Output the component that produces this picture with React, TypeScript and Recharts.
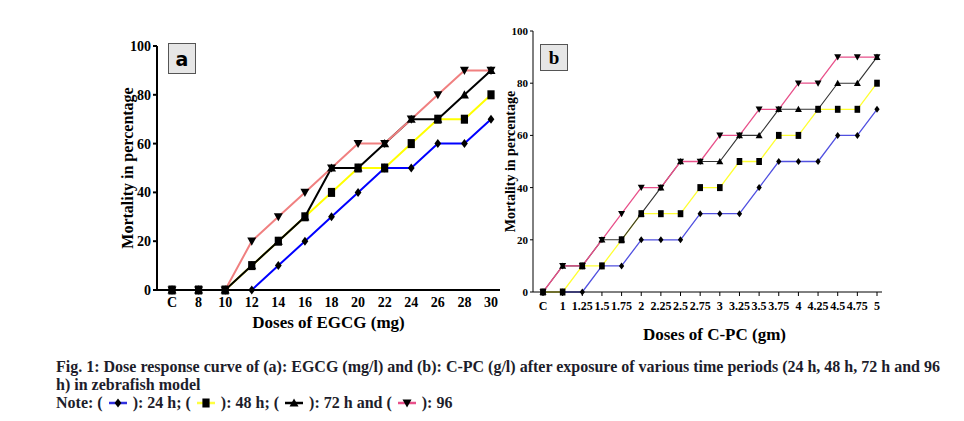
import { LineChart, Line, XAxis, YAxis } from "recharts";

const dosesA = ["C", "8", "10", "12", "14", "16", "18", "20", "22", "24", "26", "28", "30"];
const a24h = [0, 0, 0, 0, 10, 20, 30, 40, 50, 50, 60, 60, 70];
const a48h = [0, 0, 0, 10, 20, 30, 40, 50, 50, 60, 70, 70, 80];
const a72h = [0, 0, 0, 10, 20, 30, 50, 50, 60, 70, 70, 80, 90];
const a96h = [0, 0, 0, 20, 30, 40, 50, 60, 60, 70, 80, 90, 90];

const dosesB = ["C", "1", "1.25", "1.5", "1.75", "2", "2.25", "2.5", "2.75", "3", "3.25", "3.5", "3.75", "4", "4.25", "4.5", "4.75", "5"];
const b24h = [0, 0, 0, 10, 10, 20, 20, 20, 30, 30, 30, 40, 50, 50, 50, 60, 60, 70];
const b48h = [0, 0, 10, 10, 20, 30, 30, 30, 40, 40, 50, 50, 60, 60, 70, 70, 70, 80];
const b72h = [0, 10, 10, 20, 20, 30, 40, 50, 50, 50, 60, 60, 70, 70, 70, 80, 80, 90];
const b96h = [0, 10, 10, 20, 30, 40, 40, 50, 50, 60, 60, 70, 70, 80, 80, 90, 90, 90];

const yTicks = [0, 20, 40, 60, 80, 100];

const dataA = dosesA.map((dose, i) => ({ dose, h24: a24h[i], h48: a48h[i], h72: a72h[i], h96: a96h[i] }));
const dataB = dosesB.map((dose, i) => ({ dose, h24: b24h[i], h48: b48h[i], h72: b72h[i], h96: b96h[i] }));

const serif = "'Liberation Serif', 'Times New Roman', serif";

type Shape = "diamond" | "square" | "up" | "down";

const Mark = ({ cx, cy, shape, s }: { cx?: number; cy?: number; shape: Shape; s: number }) => {
  if (cx == null || cy == null) return null;
  if (shape === "diamond")
    return <path d={`M${cx},${cy - s} L${cx + s * 0.75},${cy} L${cx},${cy + s} L${cx - s * 0.75},${cy} Z`} fill="#000" />;
  if (shape === "square")
    return <rect x={cx - s * 0.8} y={cy - s} width={s * 1.6} height={s * 2} fill="#000" />;
  if (shape === "up")
    return <path d={`M${cx},${cy - s} L${cx + s},${cy + s * 0.8} L${cx - s},${cy + s * 0.8} Z`} fill="#000" />;
  return <path d={`M${cx - s},${cy - s * 0.8} L${cx + s},${cy - s * 0.8} L${cx},${cy + s} Z`} fill="#000" />;
};

const dotOf = (shape: Shape, s: number) => (p: any) =>
  <Mark key={`${shape}-${p.index}`} cx={p.cx} cy={p.cy} shape={shape} s={s} />;

const LegendIcon = ({ color, shape }: { color: string; shape: Shape }) => (
  <svg width={22} height={12} style={{ verticalAlign: "-1px" }}>
    <line x1={2} y1={6} x2={20} y2={6} stroke={color} strokeWidth={2.5} />
    <Mark cx={11} cy={6} shape={shape} s={4.5} />
  </svg>
);

const Badge = ({ left, top, w, h, text, font }: any) => (
  <div
    style={{
      position: "absolute", left, top, width: w, height: h, boxSizing: "border-box",
      border: "1px solid #555", background: "#e6e6e6", display: "flex",
      alignItems: "center", justifyContent: "center", fontFamily: font,
      fontWeight: "bold", fontSize: 19, color: "#000",
    }}
  >
    {text}
  </div>
);

export default function App() {
  return (
    <div style={{ position: "absolute", left: 0, top: 0, width: 964, height: 421, background: "#fff" }}>
      <div style={{ position: "absolute", left: 0, top: 0 }}>
        <LineChart width={520} height={345} data={dataA} margin={{ top: 46, right: 20, left: 97, bottom: 0 }}>
          <XAxis
            dataKey="dose"
            interval={0}
            padding={{ left: 15, right: 9 }}
            height={55}
            tickLine={false}
            tickMargin={1}
            stroke="#000"
            strokeWidth={2}
            tick={{ fill: "#000", fontSize: 14, fontWeight: "bold", fontFamily: serif }}
            label={{ value: "Doses of EGCG (mg)", position: "insideBottom", offset: 17, fill: "#000", fontSize: 17, fontWeight: "bold", fontFamily: serif }}
          />
          <YAxis
            domain={[0, 100]}
            ticks={yTicks}
            width={60}
            tickSize={4}
            tickMargin={2}
            stroke="#000"
            strokeWidth={2}
            tick={{ fill: "#000", fontSize: 14, fontWeight: "bold", fontFamily: serif }}
            label={{ value: "Mortality in percentage", angle: -90, position: "center", fill: "#000", fontSize: 16, fontWeight: "bold", fontFamily: serif }}
          />
          <Line dataKey="h24" stroke="#0000ff" strokeWidth={2} dot={dotOf("diamond", 4.5)} isAnimationActive={false} />
          <Line dataKey="h48" stroke="#ffff00" strokeWidth={2} dot={dotOf("square", 4.5)} isAnimationActive={false} />
          <Line dataKey="h72" stroke="#000" strokeWidth={2} dot={dotOf("up", 4.5)} isAnimationActive={false} />
          <Line dataKey="h96" stroke="#f08080" strokeWidth={2} dot={dotOf("down", 4.5)} isAnimationActive={false} />
        </LineChart>
      </div>

      <div style={{ position: "absolute", left: 480, top: 0 }}>
        <LineChart width={420} height={345} data={dataB} margin={{ top: 31, right: 18, left: 7, bottom: 0 }}>
          <XAxis
            dataKey="dose"
            interval={0}
            padding={{ left: 10, right: 5 }}
            height={53}
            tickSize={4}
            tickMargin={5}
            stroke="#000"
            tick={{ fill: "#000", fontSize: 12, fontWeight: "bold", fontFamily: serif }}
            label={{ value: "Doses of C-PC (gm)", position: "insideBottom", offset: 5, dx: 7, fill: "#000", fontSize: 17, fontWeight: "bold", fontFamily: serif }}
          />
          <YAxis
            domain={[0, 100]}
            ticks={yTicks}
            width={46}
            tickSize={3}
            tickMargin={2}
            stroke="#000"
            tick={{ fill: "#000", fontSize: 11, fontWeight: "bold", fontFamily: serif }}
            label={{ value: "Mortality in percentage", angle: -90, position: "center", fill: "#000", fontSize: 14, fontWeight: "bold", fontFamily: serif }}
          />
          <Line dataKey="h24" stroke="#5050e0" strokeWidth={1.3} dot={dotOf("diamond", 3.5)} isAnimationActive={false} />
          <Line dataKey="h48" stroke="#ffff30" strokeWidth={1.3} dot={dotOf("square", 3.5)} isAnimationActive={false} />
          <Line dataKey="h72" stroke="#333" strokeWidth={1.1} dot={dotOf("up", 3.5)} isAnimationActive={false} />
          <Line dataKey="h96" stroke="#e8508a" strokeWidth={1.3} dot={dotOf("down", 3.5)} isAnimationActive={false} />
        </LineChart>
      </div>

      <Badge left={168} top={43} w={28} h={31} text="a" font="'DejaVu Sans', sans-serif" />
      <Badge left={540} top={44} w={28} h={27} text="b" font={serif} />

      <div
        style={{
          position: "absolute", left: 56, top: 358, fontFamily: serif, fontWeight: "bold",
          fontSize: 16, lineHeight: "18px", color: "#1d1d2b", whiteSpace: "nowrap",
        }}
      >
        <div>Fig. 1: Dose response curve of (a): EGCG (mg/l) and (b): C-PC (g/l) after exposure of various time periods (24 h, 48 h, 72 h and 96</div>
        <div>h) in zebrafish model</div>
        <div>
          Note: ( <LegendIcon color="#3030e0" shape="diamond" /> ): 24 h; ( <LegendIcon color="#ffff40" shape="square" /> ): 48 h; ({" "}
          <LegendIcon color="#000" shape="up" /> ): 72 h and ( <LegendIcon color="#e8508a" shape="down" /> ): 96
        </div>
      </div>
    </div>
  );
}
